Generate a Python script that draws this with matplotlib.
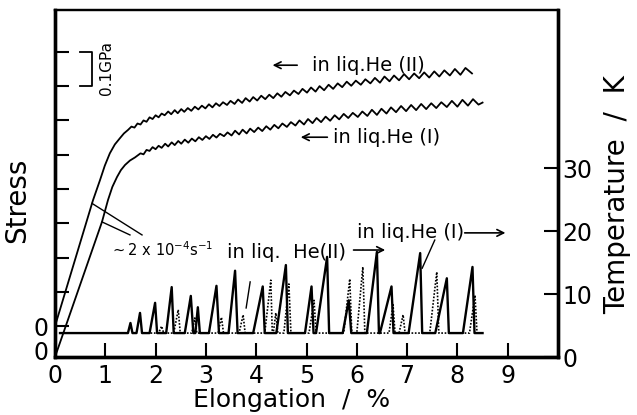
import numpy as np
import matplotlib
matplotlib.use("Agg")
import matplotlib.pyplot as plt
import matplotlib.transforms as mtransforms

plt.rcParams["font.family"] = ["DejaVu Sans"]

# --- stress curves (elongation %, stress GPa measured from each curve's own zero) ---
elong_he2 = [0, 0.755, 0.895, 0.99, 1.09, 1.19, 1.29, 1.37, 1.45,
             1.52, 1.58, 1.64, 1.70, 1.76, 1.82, 1.88, 1.94, 2.00, 2.06, 2.12, 2.18,
             2.25, 2.31, 2.38, 2.44, 2.51, 2.57, 2.64, 2.71, 2.78, 2.85, 2.92, 2.99,
             3.06, 3.13, 3.20, 3.27, 3.34, 3.42, 3.49, 3.57, 3.64, 3.72, 3.79, 3.87,
             3.94, 4.02, 4.10, 4.18, 4.26, 4.34, 4.42, 4.50, 4.58, 4.67, 4.75, 4.84,
             4.92, 5.01, 5.09, 5.18, 5.26, 5.35, 5.44, 5.53, 5.62, 5.71, 5.80, 5.89,
             5.98, 6.08, 6.17, 6.27, 6.36, 6.46, 6.55, 6.65, 6.74, 6.84, 6.94, 7.04,
             7.14, 7.24, 7.34, 7.44, 7.54, 7.64, 7.74, 7.85, 7.95, 8.06, 8.16, 8.29]
stress_he2 = [0, 0.367, 0.426, 0.468, 0.504, 0.530, 0.548, 0.562, 0.572,
              0.582, 0.579, 0.591, 0.588, 0.600, 0.596, 0.609, 0.604, 0.615, 0.609, 0.620, 0.615,
              0.626, 0.618, 0.630, 0.621, 0.633, 0.625, 0.636, 0.628, 0.640, 0.632, 0.643, 0.635,
              0.647, 0.638, 0.650, 0.642, 0.653, 0.645, 0.657, 0.648, 0.661, 0.651, 0.665, 0.655,
              0.668, 0.658, 0.672, 0.662, 0.675, 0.665, 0.679, 0.669, 0.683, 0.673, 0.687, 0.677,
              0.692, 0.681, 0.696, 0.684, 0.700, 0.688, 0.704, 0.692, 0.708, 0.697, 0.713, 0.701,
              0.716, 0.704, 0.720, 0.708, 0.724, 0.710, 0.728, 0.714, 0.731, 0.717, 0.735, 0.720,
              0.737, 0.723, 0.740, 0.725, 0.743, 0.728, 0.746, 0.731, 0.750, 0.733, 0.753, 0.737]

elong_he1 = [0, 0.934, 1.054, 1.14, 1.233, 1.31, 1.392, 1.49, 1.59,
             1.70, 1.76, 1.82, 1.88, 1.94, 2.00, 2.06, 2.12, 2.19, 2.25, 2.32, 2.38,
             2.45, 2.51, 2.58, 2.65, 2.72, 2.79, 2.86, 2.93, 3.00, 3.07, 3.14, 3.21,
             3.28, 3.36, 3.43, 3.51, 3.58, 3.66, 3.73, 3.81, 3.88, 3.96, 4.04, 4.12,
             4.20, 4.28, 4.36, 4.44, 4.52, 4.61, 4.69, 4.78, 4.86, 4.95, 5.03, 5.12,
             5.20, 5.29, 5.38, 5.47, 5.56, 5.65, 5.74, 5.83, 5.92, 6.02, 6.11, 6.21,
             6.30, 6.40, 6.49, 6.59, 6.68, 6.78, 6.88, 6.98, 7.08, 7.18, 7.28, 7.38,
             7.48, 7.58, 7.68, 7.79, 7.89, 8.00, 8.10, 8.21, 8.31, 8.42, 8.50]
stress_he1 = [0, 0.394, 0.458, 0.496, 0.525, 0.545, 0.560, 0.573, 0.582,
              0.594, 0.591, 0.604, 0.601, 0.612, 0.606, 0.616, 0.610, 0.622, 0.614, 0.626, 0.618,
              0.630, 0.622, 0.634, 0.625, 0.637, 0.629, 0.641, 0.633, 0.644, 0.636, 0.648, 0.640,
              0.651, 0.644, 0.655, 0.646, 0.660, 0.649, 0.663, 0.652, 0.666, 0.656, 0.669, 0.659,
              0.673, 0.663, 0.677, 0.667, 0.681, 0.671, 0.685, 0.675, 0.690, 0.678, 0.694, 0.682,
              0.697, 0.685, 0.701, 0.689, 0.705, 0.693, 0.709, 0.697, 0.712, 0.700, 0.716, 0.703,
              0.721, 0.706, 0.724, 0.710, 0.728, 0.714, 0.732, 0.717, 0.735, 0.720, 0.738, 0.723,
              0.740, 0.726, 0.743, 0.729, 0.747, 0.730, 0.750, 0.733, 0.752, 0.736, 0.742]

offset_he2 = 0.09  # He(II) curve drawn with its zero shifted up

# --- temperature spikes: rise start, peak elongation, peak T (K), back at bath ---
T_bath = 3.8
he1_start = [1.45, 1.62, 1.88, 2.21, 2.58, 2.79, 3.06, 3.45, 3.94, 4.40, 4.97, 5.19,
             5.72, 6.20, 6.46, 7.03, 7.56, 8.11]
he1_peak = [1.50, 1.69, 1.99, 2.32, 2.70, 2.84, 3.21, 3.58, 4.13, 4.59, 5.10, 5.41,
            5.84, 6.40, 6.69, 7.26, 7.79, 8.30]
he1_T = [5.4, 7.0, 8.6, 11.1, 9.7, 7.9, 11.3, 13.7, 11.2, 14.6, 11.2, 15.9,
         9.0, 16.7, 11.2, 16.5, 12.5, 14.3]
he1_end = [1.54, 1.73, 2.03, 2.36, 2.75, 2.88, 3.26, 3.63, 4.17, 4.63, 5.14, 5.45,
           5.89, 6.44, 6.73, 7.30, 7.83, 8.34]

he2_start = [2.06, 2.36, 2.72, 3.24, 3.66, 4.17, 4.34, 4.55, 5.05, 5.74, 6.00, 6.64,
             6.84, 7.45, 8.24]
he2_peak = [2.12, 2.45, 2.78, 3.31, 3.74, 4.29, 4.39, 4.65, 5.15, 5.86, 6.12, 6.72,
            6.92, 7.59, 8.35]
he2_T = [4.9, 7.5, 6.2, 6.3, 6.7, 12.2, 7.0, 11.6, 9.0, 12.4, 14.3, 8.3,
         6.7, 13.5, 9.8]
he2_end = [2.16, 2.49, 2.82, 3.35, 3.78, 4.32, 4.43, 4.69, 5.19, 5.90, 6.16, 6.76,
           6.96, 7.63, 8.39]


def spike_trace(first, last, starts, peaks, temps, ends):
    xs, ys = [first], [T_bath]
    for s, p, t, e in zip(starts, peaks, temps, ends):
        xs += [s, p, e]
        ys += [T_bath, t, T_bath]
    xs.append(last)
    ys.append(T_bath)
    return xs, ys


fig = plt.figure(figsize=(6.37, 4.15), dpi=100)
ax = fig.add_axes([55 / 637, 58 / 415, 503 / 637, 347 / 415])
ax.set_xlim(0, 10)
ax.set_ylim(0, 1.012)

ax.plot(elong_he2, np.array(stress_he2) + offset_he2, color="black", lw=1.3)
ax.plot(elong_he1, stress_he1, color="black", lw=1.3)

tx = ax.twinx()
tx.set_ylim(0, 55.1)
x1, y1 = spike_trace(0.1, 8.5, he1_start, he1_peak, he1_T, he1_end)
x2, y2 = spike_trace(1.9, 8.5, he2_start, he2_peak, he2_T, he2_end)
tx.plot(x1, y1, color="black", lw=1.7)
tx.plot(x2, y2, color="black", lw=1.2, ls=(0, (1, 1)))

# axes cosmetics
for a in (ax, tx):
    for side in ("left", "bottom", "right"):
        a.spines[side].set_linewidth(2.4)
    a.spines["top"].set_linewidth(1.6)

ax.set_xticks(range(10))
ax.set_xticklabels([str(i) for i in range(10)], fontsize=17)
ax.set_yticks([offset_he2 + 0.1 * k for k in range(9)])
ax.set_yticklabels(["0"] + [""] * 8, fontsize=17)
ax.tick_params(axis="y", direction="in", length=10, width=1.5, pad=5)
ax.tick_params(axis="x", direction="in", length=10, width=1.5, pad=5)

# zero of the He(I) stress curve, at the corner just above the x-axis zero
shift = mtransforms.ScaledTranslation(-5 / 72, 3 / 72, fig.dpi_scale_trans)
ax.text(0, 0, "0", fontsize=17, ha="right", va="center",
        transform=ax.get_yaxis_transform() + shift)

tx.set_yticks([0, 10, 20, 30])
tx.set_yticklabels(["0", "10", "20", "30"], fontsize=17)
tx.tick_params(axis="y", direction="in", length=10, width=1.5, pad=3)

fig.text(17 / 637, 1 - 200 / 415, "Stress", rotation=90, fontsize=20,
         ha="center", va="center")
fig.text(617 / 637, 1 - 195 / 415, "Temperature  /  K", rotation=90, fontsize=20,
         ha="center", va="center")
fig.text(292 / 637, 1 - 400 / 415, "Elongation  /  %", fontsize=18,
         ha="center", va="center")

# 0.1 GPa scale bracket
ax.plot([0.50, 0.74, 0.74, 0.50], [0.89, 0.89, 0.79, 0.79], color="black", lw=1.3)
ax.text(1.03, 0.843, "0.1GPa", rotation=90, fontsize=11, ha="center", va="center")

arrow = dict(arrowstyle="->", lw=1.2, color="black", mutation_scale=12)
ax.annotate("", xy=(4.27, 0.851), xytext=(4.87, 0.851), arrowprops=arrow)
ax.text(5.11, 0.851, "in liq.He (II)", fontsize=14, ha="left", va="center")
ax.annotate("", xy=(4.83, 0.641), xytext=(5.47, 0.641), arrowprops=arrow)
ax.text(5.53, 0.641, "in liq.He (I)", fontsize=14, ha="left", va="center")

ax.text(1.09, 0.312, r"$\sim$2 x 10$^{-4}$s$^{-1}$", fontsize=10.5, ha="left", va="center")
ax.plot([0.736, 1.73], [0.448, 0.356], color="black", lw=1.0)
ax.plot([0.934, 1.49], [0.394, 0.356], color="black", lw=1.0)

ax.text(3.42, 0.306, "in liq.  He(II)", fontsize=14, ha="left", va="center")
ax.annotate("", xy=(6.62, 0.312), xytext=(5.88, 0.312), arrowprops=arrow)
ax.plot([3.88, 3.80], [0.219, 0.143], color="black", lw=1.0)

ax.text(6.00, 0.362, "in liq.He (I)", fontsize=14, ha="left", va="center")
ax.annotate("", xy=(9.01, 0.362), xytext=(8.09, 0.362), arrowprops=arrow)
ax.plot([7.55, 7.30], [0.341, 0.259], color="black", lw=1.0)

fig.savefig("out.png", dpi=100)
